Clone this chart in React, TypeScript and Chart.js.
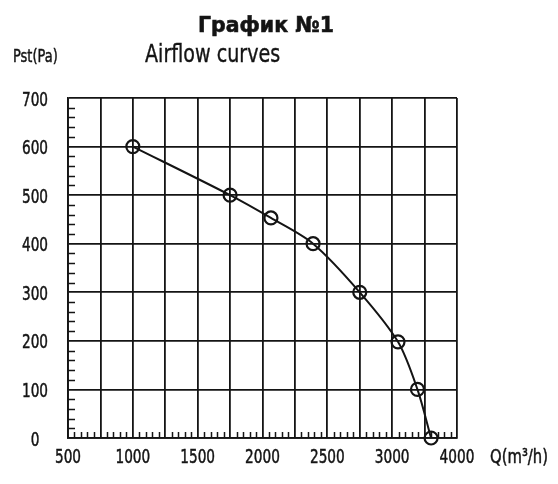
import React, { useEffect, useRef } from 'react';
import { Chart, registerables } from 'chart.js';

Chart.register(...registerables);

// ---- data ----
const flowQ = [1000, 1750, 2065, 2390, 2750, 3045, 3195, 3300];
const pressurePa = [600, 500, 453, 400, 300, 198, 100, 0];
const xTickLabels = ['500', '', '1000', '', '1500', '', '2000', '', '2500', '', '3000', '', '4000'];
const yTickLabels = ['0', '100', '200', '300', '400', '500', '600', '700'];
const titleText = 'График №1';
const subtitleText = 'Airflow curves';
const yAxisTitle = 'Pst(Pa)';
const xAxisTitle = 'Q(m³/h)';

const SANS = "'DejaVu Sans', sans-serif";
const INK = '#141414';

function drawText(ctx: CanvasRenderingContext2D, text: string, x: number, y: number, font: string, align: CanvasTextAlign, sx: number, weight = 0.5) {
  ctx.save();
  ctx.translate(x, y);
  ctx.scale(sx, 1);
  ctx.font = font;
  ctx.textAlign = align;
  ctx.textBaseline = 'alphabetic';
  ctx.fillStyle = INK;
  ctx.fillText(text, 0, 0);
  if (weight > 0) {
    ctx.strokeStyle = INK;
    ctx.lineWidth = weight;
    ctx.strokeText(text, 0, 0);
  }
  ctx.restore();
}

const minorTicks = {
  id: 'minorTicks',
  beforeDatasetsDraw(chart: any) {
    const { ctx, chartArea, scales } = chart;
    const xs = scales.x;
    const ys = scales.y;
    ctx.save();
    ctx.strokeStyle = INK;
    ctx.lineWidth = 1.5;
    ctx.beginPath();
    for (let v = 500; v <= 3500; v += 50) {
      if (v % 250 === 0) continue;
      const px = Math.round(xs.getPixelForValue(v)) + 0.5;
      ctx.moveTo(px, chartArea.bottom);
      ctx.lineTo(px, chartArea.bottom - 6);
    }
    for (let v = 0; v <= 700; v += 20) {
      if (v % 100 === 0) continue;
      const py = Math.round(ys.getPixelForValue(v)) + 0.5;
      ctx.moveTo(chartArea.left, py);
      ctx.lineTo(chartArea.left + 7, py);
    }
    ctx.stroke();
    ctx.restore();
  },
};

const tickLabels = {
  id: 'tickLabels',
  afterDraw(chart: any) {
    const { ctx, scales } = chart;
    const xs = scales.x;
    const ys = scales.y;
    const f = `19px ${SANS}`;
    xs.ticks.forEach((t: any, i: number) => {
      const label = xTickLabels[i];
      if (!label) return;
      drawText(ctx, label, xs.getPixelForValue(t.value), 455, f, 'center', 0.72);
    });
    ys.ticks.forEach((t: any, i: number) => {
      const label = yTickLabels[i];
      if (!label) return;
      drawText(ctx, label, 27, ys.getPixelForValue(t.value) + 7.5, f, 'center', 0.72);
    });
  },
};

const texts = {
  id: 'texts',
  afterDraw(chart: any) {
    const { ctx } = chart;
    drawText(ctx, titleText, 258, 24, "bold 22px 'DejaVu Sans', sans-serif", 'center', 0.93, 0.6);
    drawText(ctx, subtitleText, 137, 54, `25px ${SANS}`, 'left', 0.765, 0.4);
    drawText(ctx, yAxisTitle, 5, 54, `18px ${SANS}`, 'left', 0.72);
    drawText(ctx, xAxisTitle, 482, 455, `19.5px ${SANS}`, 'left', 0.76);
  },
};

export default function App() {
  const ref = useRef<HTMLCanvasElement | null>(null);
  useEffect(() => {
    if (!ref.current) return;
    const chart = new Chart(ref.current, {
      type: 'line',
      data: {
        datasets: [
          {
            data: flowQ.map((q, i) => ({ x: q, y: pressurePa[i] })),
            borderColor: INK,
            borderWidth: 2,
            tension: 0.3,
            pointRadius: 6.5,
            pointBorderWidth: 2.2,
            pointBorderColor: INK,
            pointBackgroundColor: 'rgba(0,0,0,0)',
            clip: false as any,
          },
        ],
      },
      options: {
        animation: false,
        responsive: true,
        maintainAspectRatio: false,
        layout: { padding: { left: 0, top: 90, right: 93, bottom: 0 } },
        plugins: { legend: { display: false }, tooltip: { enabled: false }, title: { display: false } },
        scales: {
          x: {
            type: 'linear',
            min: 500,
            max: 3500,
            afterFit: (s: any) => { s.height = 38; },
            grid: { color: INK, lineWidth: 1.8, drawTicks: false },
            border: { color: INK, width: 1.8 },
            ticks: { stepSize: 250, autoSkip: false, display: false },
          },
          y: {
            type: 'linear',
            min: 0,
            max: 700,
            afterFit: (s: any) => { s.width = 60; },
            grid: { color: INK, lineWidth: 1.8, drawTicks: false },
            border: { color: INK, width: 1.8 },
            ticks: { stepSize: 100, display: false },
          },
        },
      },
      plugins: [minorTicks, tickLabels, texts],
    });
    return () => chart.destroy();
  }, []);
  return (
    <div style={{ position: 'relative', width: 542, height: 468 }}>
      <canvas ref={ref} />
    </div>
  );
}
